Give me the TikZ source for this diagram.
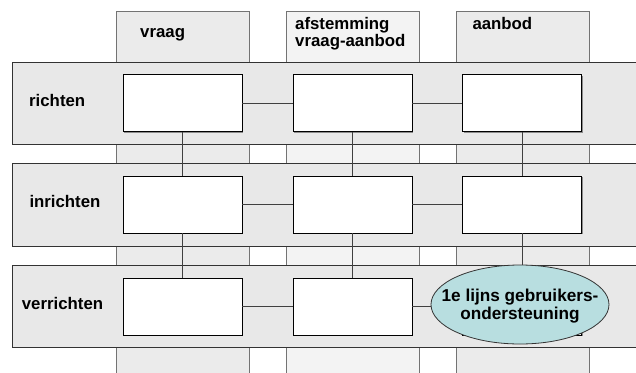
\documentclass[tikz,border=0pt]{standalone}
\usepackage{fontspec}
\setmainfont{Liberation Sans}
\usetikzlibrary{shapes.geometric}
\definecolor{colfillA}{HTML}{EBEBEB}
\definecolor{colfillB}{HTML}{F3F3F3}
\definecolor{rowfill}{HTML}{E8E8E8}
\definecolor{ellfill}{HTML}{B8DEE0}
\tikzset{
  colband/.style={draw=black!55, line width=0.9pt},
  rowedge/.style={draw=black!80, line width=0.9pt},
  cellbox/.style={draw=black, line width=0.9pt, fill=white, rectangle, minimum width=119pt, minimum height=57pt, inner sep=0pt},
  shadowbox/.style={fill=black!45, rectangle, minimum width=119pt, minimum height=57pt, inner sep=0pt},
  conn/.style={draw=black!75, line width=0.7pt},
  lbl/.style={font=\bfseries\fontsize{16.8}{18}\selectfont, anchor=base west, inner sep=0pt},
  oval/.style={ellipse, draw=black!80, line width=0.8pt, fill=ellfill, minimum width=178pt, minimum height=79pt, inner sep=0pt},
  ovaltext/.style={inner sep=0pt, align=center, font=\bfseries\fontsize{17.2}{18}\selectfont}
}
\begin{document}
\begin{tikzpicture}[x=1pt,y=-1pt]
\useasboundingbox (0,0) rectangle (636,372);
% columns
\filldraw[colband, fill=colfillA] (116,11) rectangle (249,380);
\filldraw[colband, fill=colfillB] (286,11) rectangle (419,380);
\filldraw[colband, fill=colfillA] (456,11) rectangle (589,380);
\node[lbl] (hvraag) at (140,37) {vraag};
\node[lbl] (hafst) at (295,29.3) {afstemming};
\node[lbl] (hafst2) at (295,46.7) {vraag-aanbod};
\node[lbl] (haanbod) at (472.3,29.3) {aanbod};
% rows
\fill[rowfill] (12.5,62) rectangle (640,144);
\draw[rowedge] (640,62) -- (12.5,62) -- (12.5,144) -- (640,144);
\fill[rowfill] (12.5,163) rectangle (640,246);
\draw[rowedge] (640,163) -- (12.5,163) -- (12.5,246) -- (640,246);
\fill[rowfill] (12.5,265) rectangle (640,347);
\draw[rowedge] (640,265) -- (12.5,265) -- (12.5,347) -- (640,347);
\node[lbl] (lr) at (29,106) {richten};
\node[lbl] (li) at (29.3,207.7) {inrichten};
\node[lbl] (lv) at (21.7,309.3) {verrichten};
% shadows
\foreach \cx/\cy in {182.5/103, 352.5/103, 522/103, 182.5/204.5, 352.5/204.5, 522/204.5, 182.5/306.5, 352.5/306.5, 522/306.5}
  \node[shadowbox] at (\cx+1.2,\cy+1.4) {};
% boxes
\node[cellbox] (a1) at (182.5,103) {};
\node[cellbox] (b1) at (352.5,103) {};
\node[cellbox] (c1) at (522,103) {};
\node[cellbox] (a2) at (182.5,204.5) {};
\node[cellbox] (b2) at (352.5,204.5) {};
\node[cellbox] (c2) at (522,204.5) {};
\node[cellbox] (a3) at (182.5,306.5) {};
\node[cellbox] (b3) at (352.5,306.5) {};
\node[cellbox] (c3) at (522,306.5) {};
% ellipse
\node[oval] (ell) at (520,304.5) {};
\node[ovaltext] (elltext) at (520,306) {1e lijns gebruikers-\\ondersteuning};
% connectors
\draw[conn] (a1) -- (b1);
\draw[conn] (b1) -- (c1);
\draw[conn] (a2) -- (b2);
\draw[conn] (b2) -- (c2);
\draw[conn] (a3) -- (b3);
\draw[conn] (b3.east) -- (ell.west |- b3.east);
\draw[conn] (a1) -- (a2);
\draw[conn] (b1) -- (b2);
\draw[conn] (c1) -- (c2);
\draw[conn] (a2) -- (a3);
\draw[conn] (b2) -- (b3);
\draw[conn] (c2.south) -- (ell.north -| c2.south);
\end{tikzpicture}
\end{document}
